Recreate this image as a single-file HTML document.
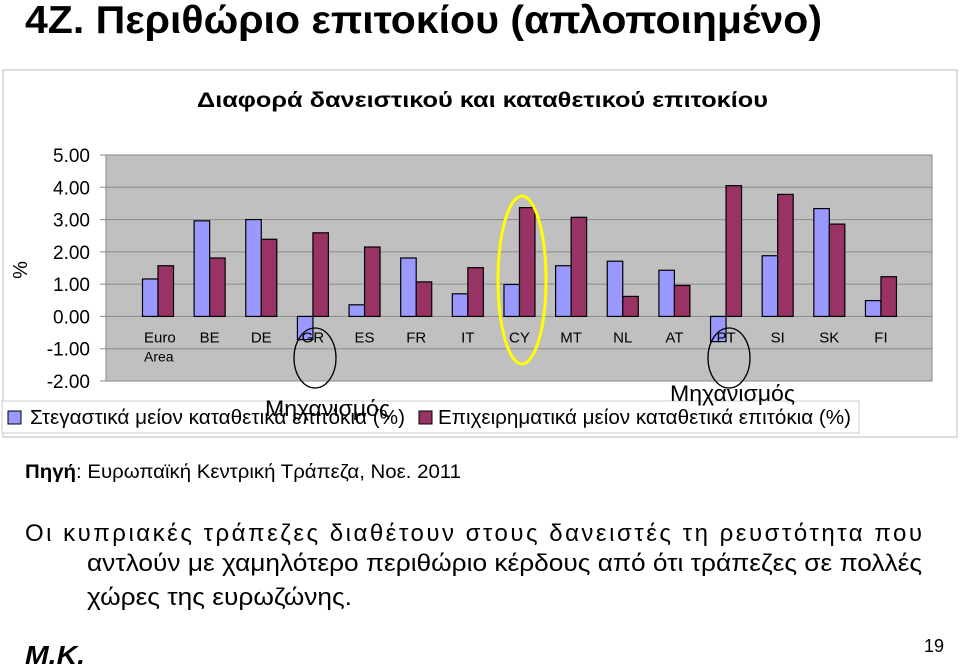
<!DOCTYPE html>
<html><head><meta charset="utf-8"><style>
body{margin:0;width:960px;height:666px;background:#fff;font-family:"Liberation Sans","DejaVu Sans",sans-serif;overflow:hidden;position:relative}
</style></head><body>
<svg width="960" height="666" style="position:absolute;left:0;top:0" font-family="Liberation Sans, DejaVu Sans, sans-serif">
<text x="25" y="33" font-size="39" font-weight="bold" textLength="797" lengthAdjust="spacingAndGlyphs">4Ζ. Περιθώριο επιτοκίου (απλοποιημένο)</text>
<rect x="3" y="70" width="954" height="367" fill="#fff" stroke="#bbb"/>
<text x="197" y="107" font-size="21" font-weight="bold" textLength="571" lengthAdjust="spacingAndGlyphs">Διαφορά δανειστικού και καταθετικού επιτοκίου</text>
<text transform="translate(27,270) rotate(-90)" font-size="20" text-anchor="middle">%</text>
<g id="plot"></g>
<rect x="2" y="401" width="857" height="32" fill="#fff" stroke="#ccc"/>
<rect x="8" y="411" width="13" height="13" fill="#9999ff" stroke="#000"/>
<text x="30" y="424" font-size="20" textLength="375" lengthAdjust="spacingAndGlyphs">Στεγαστικά μείον καταθετικά επιτόκια (%)</text>
<rect x="419" y="411" width="13" height="13" fill="#993366" stroke="#000"/>
<text x="438" y="424" font-size="20" textLength="413" lengthAdjust="spacingAndGlyphs">Επιχειρηματικά μείον καταθετικά επιτόκια (%)</text>
<ellipse cx="522" cy="280" rx="24" ry="84" fill="none" stroke="#ffff00" stroke-width="3"/>
<ellipse cx="315" cy="358" rx="21" ry="30" fill="none" stroke="#000" stroke-width="1.3"/>
<ellipse cx="729" cy="358" rx="21" ry="30" fill="none" stroke="#000" stroke-width="1.3"/>
<text x="265" y="416" font-size="22" textLength="125" lengthAdjust="spacingAndGlyphs">Μηχανισμός</text>
<text x="670" y="401" font-size="22" textLength="125" lengthAdjust="spacingAndGlyphs">Μηχανισμός</text>
<text x="25" y="478" font-size="19" textLength="436" lengthAdjust="spacingAndGlyphs"><tspan font-weight="bold">Πηγή</tspan>: Ευρωπαϊκή Κεντρική Τράπεζα, Νοε. 2011</text>
<text x="25" y="541" font-size="24" textLength="897" lengthAdjust="spacing">Οι κυπριακές τράπεζες διαθέτουν στους δανειστές τη ρευστότητα που</text>
<text x="87" y="571" font-size="24" textLength="835" lengthAdjust="spacingAndGlyphs">αντλούν με χαμηλότερο περιθώριο κέρδους από ότι τράπεζες σε πολλές</text>
<text x="87" y="605" font-size="24" textLength="265" lengthAdjust="spacingAndGlyphs">χώρες της ευρωζώνης.</text>
<text x="25" y="664" font-size="26" font-weight="bold" font-style="italic" textLength="60" lengthAdjust="spacingAndGlyphs">M.K.</text>
<text x="924" y="652" font-size="18">19</text>
</svg>
<script>
const categories=["Euro|Area","BE","DE","GR","ES","FR","IT","CY","MT","NL","AT","PT","SI","SK","FI"];
const housing=[1.16,2.96,3.0,-0.72,0.36,1.81,0.70,0.99,1.57,1.71,1.43,-0.78,1.88,3.34,0.49];
const business=[1.57,1.81,2.39,2.59,2.15,1.07,1.51,3.37,3.07,0.62,0.96,4.05,3.78,2.86,1.23];
const yTicks=[5,4,3,2,1,0,-1,-2];
const NS="http://www.w3.org/2000/svg";
const g=document.getElementById('plot');
const L=106,R=932,T=155,B=381,yMin=-2,yMax=5;
const y=v=>B-(v-yMin)/(yMax-yMin)*(B-T);
const x0=158,step=51.64,bw=15.5;
const xc=i=>x0+i*step;
function mk(t,a){const e=document.createElementNS(NS,t);for(const k in a)e.setAttribute(k,a[k]);g.appendChild(e);return e;}
const bg=mk('rect',{x:L,y:T,width:R-L,height:B-T,fill:'#c0c0c0',stroke:'#888'});


yTicks.forEach(v=>{
 const ln=mk('line',{x1:L-6,x2:R,y1:y(v),y2:y(v),stroke:'#8a8a8a','stroke-width':1});
 
 
 const t=mk('text',{x:L-16,y:y(v)+7,'font-size':19,'text-anchor':'end'});
 t.textContent=v.toFixed(2);
 
 
});
categories.forEach((c,i)=>{
 const h=housing[i],b=business[i];
 const r1=mk('rect',{x:xc(i)-bw,y:Math.min(y(h),y(0)),width:bw,height:Math.abs(y(h)-y(0)),fill:'#9999ff',stroke:'#000','stroke-width':1.2});
 
 
 const r2=mk('rect',{x:xc(i),y:Math.min(y(b),y(0)),width:bw,height:Math.abs(y(b)-y(0)),fill:'#993366',stroke:'#000','stroke-width':1.2});
 
 
 c.split('|').forEach((p,j)=>{
  const multi=c.includes('|');
  const t=mk('text',{x:multi?xc(i)-14:xc(i),y:y(0)+26+j*19,'font-size':multi&&j?14:15,'text-anchor':multi?'start':'middle'});
  t.textContent=p;
  
  
 });
});
</script>
</body></html>
